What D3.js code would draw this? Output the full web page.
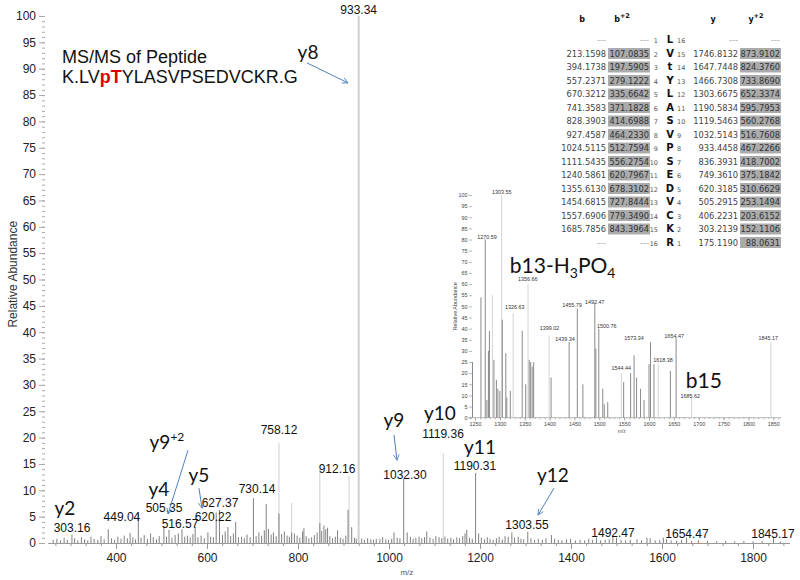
<!DOCTYPE html>
<html><head><meta charset="utf-8">
<script src="https://cdn.jsdelivr.net/npm/d3@7"></script>
<style>body{margin:0;background:#fff}svg{display:block}</style>
</head><body>
<svg id="c" width="800" height="580"></svg>
<script>
// ---------------- DATA ----------------
const mzTicks = [400, 600, 800, 1000, 1200, 1400, 1600, 1800];
const abundanceTicks = [0,5,10,15,20,25,30,35,40,45,50,55,60,65,70,75,80,85,90,95,100];
const insetMzTicks = [1250,1300,1350,1400,1450,1500,1550,1600,1650,1700,1750,1800,1850];
const insetAbundanceTicks = [0,5,10,15,20,25,30,35,40,45,50,55,60,65,70,75,80,85,90,95,100];

// main spectrum, resolved (dark) sticks [m/z, relative abundance]
const mainPeaks = [[262,0.6],[270,0.8],[278,0.5],[286,1.0],[293,0.6],[303.16,1.6],[309,0.9],[316,0.5],[324,1.1],[331,0.7],[338,0.5],[345,1.2],[352,0.8],[360,0.6],[367,1.3],[374,0.7],[383,2.6],[390,0.9],[397,0.6],[404,1.2],[411,0.8],[418,1.4],[425,0.9],[431,1.9],[437,1.1],[443,0.7],[449.04,5.6],[455,1.0],[462,1.5],[469,0.8],[476,1.8],[482,1.1],[489,0.7],[495,1.3],[505.35,3.2],[511,1.2],[516.57,2.5],[523,1.0],[530,1.5],[537,1.8],[545,2.6],[551,1.2],[557,1.4],[563,1.0],[569,1.7],[574,3.0],[580,1.1],[587,1.4],[594,0.9],[602,2.0],[608,1.2],[614,1.1],[620.22,5.8],[627.37,6.3],[634,1.5],[640,2.2],[646,3.0],[652,1.3],[658,1.8],[663,4.0],[669,1.1],[676,1.2],[682,0.9],[688,1.6],[695,1.1],[702,8.5],[708,1.3],[714,2.0],[720,1.4],[726,2.4],[730.14,7.4],[735,2.7],[741,1.6],[746,2.0],[752,1.3],[758.12,5.6],[764,1.7],[770,2.2],[776,1.4],[781,1.2],[786,2.0],[792,1.8],[798,1.4],[804,1.0],[810,2.2],[813,2.8],[818,1.3],[824,0.9],[830,1.1],[836,1.5],[842,2.0],[848,3.8],[852,2.3],[857,3.3],[861,2.6],[865,2.9],[870,1.3],[876,0.9],[882,1.2],[887,2.4],[893,1.0],[899,0.8],[905,1.4],[910,6.3],[918,3.0],[924,1.0],[928,0.8],[940,0.8],[946,0.6],[953,0.9],[960,0.7],[966,0.6],[972,0.8],[980,0.7],[986,1.1],[993,0.7],[999,0.6],[1006,0.8],[1011,2.0],[1018,1.0],[1024,0.9],[1032.30,12.2],[1040,2.0],[1047,1.2],[1053,0.8],[1059,1.0],[1066,1.2],[1072,0.9],[1078,1.1],[1083,2.2],[1090,1.0],[1097,0.8],[1103,1.3],[1110,1.1],[1116,0.9],[1123,1.2],[1129,0.8],[1136,1.0],[1142,0.7],[1149,1.1],[1155,0.9],[1162,1.3],[1167,1.8],[1171,2.5],[1177,1.0],[1183,0.8],[1190.31,13.3],[1197,1.8],[1203,1.0],[1210,0.7],[1216,1.1],[1222,0.8],[1229,0.6],[1236,0.9],[1242,1.2],[1249,0.7],[1255,1.3],[1262,1.2],[1270,2.0],[1276,1.0],[1284,1.2],[1290,0.8],[1296,0.7],[1305,2.1],[1312,0.9],[1320,0.6],[1328,0.8],[1337,0.6],[1345,0.9],[1357,1.5],[1364,0.8],[1372,0.6],[1380,0.5],[1390,0.7],[1399,0.8],[1410,0.5],[1420,0.6],[1430,0.5],[1439,0.8],[1447,0.6],[1456,1.0],[1465,0.5],[1475,0.6],[1484,0.7],[1492,1.4],[1500,1.0],[1510,0.6],[1520,0.5],[1530,0.6],[1545,0.7],[1555,0.5],[1567,1.0],[1574,0.9],[1585,0.5],[1595,0.6],[1603,1.0],[1610,0.7],[1620,0.5],[1632,0.4],[1643,0.6],[1654,1.0],[1665,0.4],[1680,0.5],[1700,0.4],[1720,0.3],[1740,0.4],[1760,0.3],[1780,0.4],[1800,0.3],[1820,0.4],[1845,1.0],[1860,0.3]];
// main spectrum, profile (faint) sticks
const mainPeaksFaint = [[786,7.6],[758.12,19],[848,14],[912.16,12.8],[933.34,100],[1119.36,17]];

// peak labels [text, m/z anchor, abundance at baseline]
const mainPeakLabels = [["933.34",933.34,100.3],["303.16",303.3,2.0],["449.04",413,4.1],["505.35",505.5,5.8],["516.57",540.7,2.9],["627.37",628.6,6.9],["620.22",613.2,4.2],["730.14",709.9,9.4],["758.12",758.2,20.6],["912.16",885.7,13.2],["1032.30",1035.2,12.2],["1119.36",1118.7,20.0],["1190.31",1189,13.8],["1303.55",1303.3,2.6],["1492.47",1492.3,1.2],["1654.47",1654.9,1.0],["1845.17",1843.9,1.0]];
// ion labels [ion, charge sup, m/z anchor, abundance at baseline]
const ionLabels = [["y2","",287.9,5.3],["y4","",494.5,9.0],["y9","+2",512,17.8],["y5","",582.4,11.5],["y8","",822,91.8],["y9","",1011,22.0],["y10","",1112,23.3],["y11","",1200,16.9],["y12","",1360.4,11.6]];
// arrows [from m/z, from abundance, to m/z, to abundance]
const ionArrows = [[819.8,91.1,909.9,87.3],[558.2,17.6,514.3,5.5],[582.4,10.4,589.0,6.6],[1011,20.5,1017.6,15.7],[1362.6,10.4,1327.5,5.3]];

// inset (zoom 1250-1850)
const insetPeaks = [[1245,25],[1262,54],[1270.59,80],[1274,8],[1277,30],[1279,39],[1288,26],[1293,17],[1296,13],[1300,12],[1305,44],[1312,29],[1314,9],[1321,12],[1345,39],[1352,15],[1359,26],[1362,25],[1365,23],[1368,25],[1403,18],[1439.34,34],[1455.79,49],[1467,15],[1491,51],[1493,31],[1499,40],[1507,13],[1510,6],[1517,7],[1549,16],[1563,20],[1570,28],[1575,18],[1583,13],[1590,8],[1600,24],[1603,34],[1610,24],[1643,21],[1654.47,36]];
const insetPeaksFaint = [[1285,55],[1303.55,100],[1326.63,47],[1356.66,60],[1399.02,37],[1544.44,20],[1618.38,24],[1685.62,9],[1845.17,34]];
const insetPeakLabels = [["1303.55",1304,100.4],["1270.59",1274,80.3],["1356.66",1356,61.4],["1326.63",1330,48.9],["1455.79",1445,49.8],["1492.47",1491,51.2],["1399.02",1400,39.3],["1500.76",1515,40.4],["1439.34",1431,34.3],["1573.34",1570,35.0],["1654.47",1651,36.0],["1845.17",1840,34.8],["1618.38",1628,25.0],["1544.44",1544,21.3],["1685.62",1683,9.0]];

// fragment table
const residues = ["L","V","t","Y","L","A","S","V","P","S","E","D","V","C","K","R"];
const bIons  = [null,213.1598,394.1738,557.2371,670.3212,741.3583,828.3903,927.4587,1024.5115,1111.5435,1240.5861,1355.6130,1454.6815,1557.6906,1685.7856,null];
const b2Ions = [null,107.0835,197.5905,279.1222,335.6642,371.1828,414.6988,464.2330,512.7594,556.2754,620.7967,678.3102,727.8444,779.3490,843.3964,null];
const yIons  = [null,1746.8132,1647.7448,1466.7308,1303.6675,1190.5834,1119.5463,1032.5143,933.4458,836.3931,749.3610,620.3185,505.2915,406.2231,303.2139,175.1190];
const y2Ions = [null,873.9102,824.3760,733.8690,652.3374,595.7953,560.2768,516.7608,467.2266,418.7002,375.1842,310.6629,253.1494,203.6152,152.1106,88.0631];

// ---------------- DRAW ----------------
const AR = "'Liberation Sans', Arial, sans-serif";
const CAL = "Lato, 'Open Sans', sans-serif";
const VER = "'DejaVu Sans', Verdana, sans-serif";
const svg = d3.select("#c");
const plain = d3.format("d");

const x = d3.scaleLinear().domain([250, 1880]).range([47.75, 789.4]);
const y = d3.scaleLinear().domain([0, 100]).range([543, 16]);

// arrow marker
svg.append("defs").append("marker").attr("id","arr").attr("viewBox","0 0 10 10")
  .attr("refX",9).attr("refY",5).attr("markerWidth",7).attr("markerHeight",7)
  .attr("markerUnits","userSpaceOnUse").attr("orient","auto")
  .append("path").attr("d","M1,1 L9,5 L1,9").attr("fill","none").attr("stroke","#4f81bd").attr("stroke-width",1.2);

// x axis
const gx = svg.append("g").attr("transform",`translate(0,${y(0)})`);
const mzMinor = d3.range(400 - 4*200/6, 1880, 200/6);
gx.call(d3.axisBottom(x).tickValues(mzMinor).tickSize(3).tickSizeOuter(0).tickFormat(""));
gx.append("g").call(d3.axisBottom(x).tickValues(mzTicks).tickSize(6).tickSizeOuter(0).tickPadding(4).tickFormat(plain));
gx.selectAll("path.domain").attr("stroke","#999");
gx.selectAll("line").attr("stroke","#999");
gx.selectAll("text").attr("font-family",AR).attr("font-size",12).attr("fill","#222");
svg.append("text").attr("x",x(1025)).attr("y",575).attr("font-family",AR).attr("font-size",8).attr("fill","#555").text("m/z");

// y axis
const gy = svg.append("g").attr("transform","translate(45,0)");
gy.call(d3.axisLeft(y).tickValues(d3.range(0,101,1)).tickSize(3).tickSizeOuter(0).tickFormat(""));
gy.append("g").call(d3.axisLeft(y).tickValues(abundanceTicks).tickSize(6).tickSizeOuter(0).tickPadding(3).tickFormat(plain));
gy.selectAll("path.domain").remove();
gy.selectAll("line").attr("stroke","#aaa");
gy.selectAll("text").attr("font-family",AR).attr("font-size",12).attr("fill","#222");
svg.append("text").attr("transform",`translate(17,${y(51)}) rotate(-90)`).attr("text-anchor","middle")
  .attr("font-family",AR).attr("font-size",12).attr("fill","#333").text("Relative Abundance");

// peaks
svg.append("g").selectAll("line").data(mainPeaksFaint).join("line")
  .attr("x1",d=>x(d[0])).attr("x2",d=>x(d[0])).attr("y1",y(0)).attr("y2",d=>y(d[1]))
  .attr("stroke","#cfcfcf").attr("stroke-width",d=>d[1]===d3.max(mainPeaksFaint,p=>p[1])?2:1);
svg.append("g").selectAll("line").data(mainPeaks).join("line")
  .attr("x1",d=>x(d[0])).attr("x2",d=>x(d[0])).attr("y1",y(0)).attr("y2",d=>y(d[1]))
  .attr("stroke","#808080").attr("stroke-width",1);

// peak labels
svg.append("g").selectAll("text").data(mainPeakLabels).join("text")
  .attr("x",d=>x(d[1])).attr("y",d=>y(d[2])).attr("text-anchor","middle")
  .attr("font-family",AR).attr("font-size",12).attr("fill","#111").text(d=>d[0]);

// arrows
svg.append("g").selectAll("line").data(ionArrows).join("line")
  .attr("x1",d=>x(d[0])).attr("y1",d=>y(d[1])).attr("x2",d=>x(d[2])).attr("y2",d=>y(d[3]))
  .attr("stroke","#4f81bd").attr("stroke-width",1).attr("marker-end","url(#arr)");

// ion labels
const il = svg.append("g").selectAll("text").data(ionLabels).join("text")
  .attr("x",d=>x(d[2])).attr("y",d=>y(d[3])).attr("text-anchor","middle")
  .attr("font-family",CAL).attr("font-size",19).attr("fill","#111");
il.append("tspan").text(d=>d[0]);
il.filter(d=>d[1]).append("tspan").attr("dy",-8).attr("font-size",12).text(d=>d[1]);

// title
svg.append("text").attr("x",x(281.3)).attr("y",y(91.1)).attr("font-family",AR).attr("font-size",18).attr("fill","#111").text("MS/MS of Peptide");
const t2 = svg.append("text").attr("x",x(281.3)).attr("y",y(87.3)).attr("font-family",AR).attr("font-size",18).attr("fill","#111");
t2.append("tspan").text("K.LV");
t2.append("tspan").attr("fill","#e00000").attr("font-weight","bold").text("pT");
t2.append("tspan").text("YLASVPSEDVCKR.G");

// ---------------- INSET ----------------
const xi = d3.scaleLinear().domain([1250, 1850]).range([475, 773.3]);
const yi = d3.scaleLinear().domain([0, 100]).range([417.7, 195]);
const ix = svg.append("g").attr("transform",`translate(0,${yi(0)})`);
ix.append("line").attr("x1",xi(1236)).attr("x2",xi(1866)).attr("stroke","#bbb").attr("stroke-width",0.6);
ix.call(d3.axisBottom(xi).tickValues(d3.range(1240,1861,10)).tickSize(1.5).tickSizeOuter(0).tickFormat(""));
ix.append("g").call(d3.axisBottom(xi).tickValues(insetMzTicks).tickSize(3).tickSizeOuter(0).tickPadding(1.5).tickFormat(plain));
ix.selectAll("path.domain").remove();
ix.selectAll("line").attr("stroke","#999").attr("stroke-width",0.7);
ix.selectAll("text").attr("font-family",AR).attr("font-size",5.4).attr("fill","#444");
svg.append("text").attr("x",xi(1545)).attr("y",433).attr("text-anchor","middle").attr("font-family",AR).attr("font-size",5).attr("fill","#555").text("m/z");

const iy = svg.append("g").attr("transform","translate(472,0)");
iy.call(d3.axisLeft(yi).tickValues(insetAbundanceTicks).tickSize(3).tickSizeOuter(0).tickPadding(1.5).tickFormat(plain));
iy.selectAll("path.domain").remove();
iy.selectAll("line").attr("stroke","#999").attr("stroke-width",0.7);
iy.selectAll("text").attr("font-family",AR).attr("font-size",5.4).attr("fill","#444");
svg.append("text").attr("transform",`translate(457,${yi(50)}) rotate(-90)`).attr("text-anchor","middle")
  .attr("font-family",AR).attr("font-size",5.4).attr("fill","#444").text("Relative Abundance");

svg.append("g").selectAll("line").data(insetPeaksFaint).join("line")
  .attr("x1",d=>xi(d[0])).attr("x2",d=>xi(d[0])).attr("y1",yi(0)).attr("y2",d=>yi(d[1]))
  .attr("stroke","#d4d4d4").attr("stroke-width",1);
svg.append("g").selectAll("line").data(insetPeaks).join("line")
  .attr("x1",d=>xi(d[0])).attr("x2",d=>xi(d[0])).attr("y1",yi(0)).attr("y2",d=>yi(d[1]))
  .attr("stroke","#8a8a8a").attr("stroke-width",1);
svg.append("g").selectAll("text").data(insetPeakLabels).join("text")
  .attr("x",d=>xi(d[1])).attr("y",d=>yi(d[2])).attr("text-anchor","middle")
  .attr("font-family",AR).attr("font-size",5.4).attr("fill","#333").text(d=>d[0]);

// inset annotations
const bt = svg.append("text").attr("x",xi(1320)).attr("y",yi(65)).attr("font-family",CAL).attr("font-size",21).attr("fill","#111");
bt.append("tspan").text("b13-H");
bt.append("tspan").attr("font-size",14).attr("dy",5).text("3");
bt.append("tspan").attr("dy",-5).text("PO");
bt.append("tspan").attr("font-size",14).attr("dy",5).text("4");
svg.append("text").attr("x",xi(1674)).attr("y",yi(13.2)).attr("font-family",CAL).attr("font-size",21).attr("fill","#111").text("b15");

// ---------------- TABLE ----------------
const rowY = i => 40 + i*13.5;
const tb = svg.append("g").attr("font-family",VER);
const hdr = [["b",582,""],["b",622,"+2"],["y",713,""],["y",756,"+2"]];
hdr.forEach(h=>{
  const t = tb.append("text").attr("x",h[1]).attr("y",22).attr("text-anchor","middle").attr("font-size",8).attr("font-weight","bold").attr("fill","#111");
  t.append("tspan").text(h[0]);
  if (h[2]) t.append("tspan").attr("dy",-4).attr("font-size",6.5).text(h[2]);
});
const fmt = v => v == null ? "---" : v.toFixed(4);
residues.forEach((r,i)=>{
  const yy = rowY(i);
  if (b2Ions[i] != null) tb.append("rect").attr("x",608).attr("y",yy-5.5).attr("width",42).attr("height",11).attr("fill","#ababab");
  if (y2Ions[i] != null) tb.append("rect").attr("x",740).attr("y",yy-5.5).attr("width",41).attr("height",11).attr("fill","#ababab");
  const cell = (txt,xx,anchor,opts={}) => tb.append("text").attr("x",xx).attr("y",yy+3).attr("text-anchor",anchor)
      .attr("font-size",opts.size||8.3).attr("font-weight",opts.bold?"bold":"normal").attr("fill",opts.fill||"#444").text(txt);
  cell(fmt(bIons[i]),606,"end",{fill: bIons[i]==null?"#aaa":"#444"});
  cell(fmt(b2Ions[i]),649,"end",{fill: b2Ions[i]==null?"#aaa":"#333"});
  cell(String(i+1),658,"end",{size:6.5,fill:"#555"});
  cell(r,670,"middle",{size:10,bold:true,fill:"#111"});
  cell(String(residues.length-i),677,"start",{size:6.5,fill:"#555"});
  cell(fmt(yIons[i]),738,"end",{fill: yIons[i]==null?"#aaa":"#444"});
  cell(fmt(y2Ions[i]),780,"end",{fill: y2Ions[i]==null?"#aaa":"#333"});
});
</script>
</body></html>
